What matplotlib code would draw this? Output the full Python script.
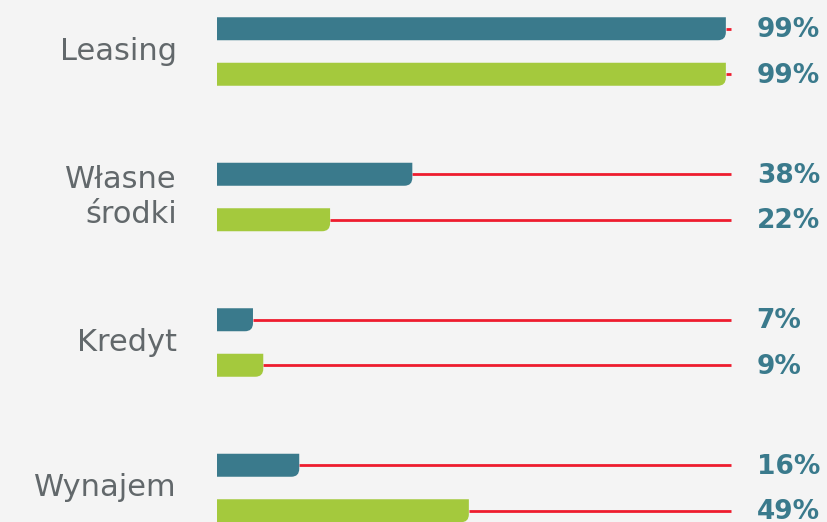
import matplotlib.pyplot as plt
from matplotlib.patches import PathPatch
from matplotlib.path import Path

categories = ["Leasing", "Własne\nśrodki", "Kredyt", "Wynajem"]
series_a = [99, 38, 7, 16]
series_b = [99, 22, 9, 49]

TEAL = "#3a7a8c"
GREEN = "#a4c93d"
RED = "#ee1c2e"
BG = "#f4f4f4"
GREY = "#62686b"

W, H, DPI = 827, 522, 100
fig = plt.figure(figsize=(W / DPI, H / DPI), dpi=DPI, facecolor=BG)
ax = fig.add_axes([0, 0, 1, 1], facecolor=BG)

# pixel layout: 0% at x=217px, 100% at 731px; groups 145.5px apart
px_per_pct = 5.14
x_lo = -217 / px_per_pct
x_hi = (W - 217) / px_per_pct
grp = 145.5
y_top = -51.5 / grp
y_bot = (H - 51.5) / grp
ax.set_xlim(x_lo, x_hi)
ax.set_ylim(y_bot, y_top)
ax.axis("off")

off = 22.75 / grp
bar_h = 23 / grp
rx = 8 / px_per_pct
ry = 8 / grp


def rounded_bar(x1, yc, color):
    yt, yb = yc - bar_h / 2, yc + bar_h / 2
    verts = [(0, yt), (x1, yt), (x1, yb - ry), (x1, yb), (x1 - rx, yb),
             (0, yb), (0, yt)]
    codes = [Path.MOVETO, Path.LINETO, Path.LINETO, Path.CURVE3, Path.CURVE3,
             Path.LINETO, Path.CLOSEPOLY]
    ax.add_patch(PathPatch(Path(verts, codes), facecolor=color,
                           edgecolor="none", zorder=3))


for i, (cat, a, b) in enumerate(zip(categories, series_a, series_b)):
    for val, yc, col in ((a, i - off, TEAL), (b, i + off, GREEN)):
        ax.hlines(yc, val, 100, color=RED, lw=2.0, zorder=2)
        rounded_bar(val, yc, col)
        ax.text(105.0, yc + 0.01, f"{val}%", ha="left", va="center", color=TEAL,
                fontsize=19, fontweight="bold", family="DejaVu Sans")
    ax.text(-7.8, i + 0.0, cat, ha="right", va="center", color=GREY,
            fontsize=22, family="DejaVu Sans", linespacing=1.25)

fig.savefig("out.png", dpi=DPI, facecolor=BG)
